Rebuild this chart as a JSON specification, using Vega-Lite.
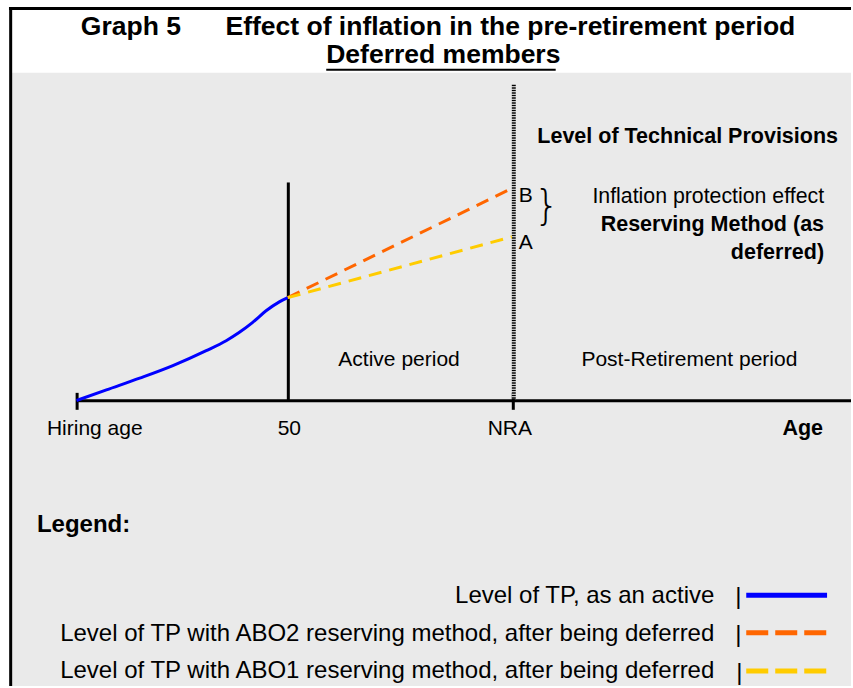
{
  "$schema": "https://vega.github.io/schema/vega-lite/v6.json",
  "width": 853,
  "height": 688,
  "autosize": {"type": "fit", "contains": "padding"},
  "padding": 0,
  "background": "#ffffff",
  "config": {"view": {"stroke": null}, "font": "Liberation Sans"},
  "datasets": {
    "bg": [{"x": 1.2, "x2": 85.3, "y": 0, "y2": 61.5}],
    "hblack3": [{"x": 0.9, "x2": 85.3, "y": 67.95}, {"x": 7.7, "x2": 85.3, "y": 28.6}],
    "vblack3": [{"x": 1.07, "y": 0, "y2": 68.1}, {"x": 7.73, "y": 27.7, "y2": 29.4}, {"x": 51.45, "y": 27.7, "y2": 29.4}, {"x": 28.9, "y": 28.6, "y2": 50.5}],
    "underline": [{"x": 32.7, "x2": 55.7, "y": 61.8}],
    "nra": [{"x": 51.5, "y": 28.8, "y2": 60.3}],
    "active": [
      {"x": 7.67, "y": 28.63}, {"x": 10.67, "y": 29.7}, {"x": 14.0, "y": 30.87}, {"x": 17.33, "y": 32.13},
      {"x": 20.67, "y": 33.63}, {"x": 22.67, "y": 34.63}, {"x": 24.0, "y": 35.47}, {"x": 25.33, "y": 36.47},
      {"x": 26.67, "y": 37.63}, {"x": 28.0, "y": 38.53}, {"x": 28.85, "y": 38.95}
    ],
    "abo2": [{"x": 28.85, "y": 38.95}, {"x": 51.3, "y": 49.9}],
    "abo1": [{"x": 28.85, "y": 38.95}, {"x": 51.3, "y": 45.05}],
    "key_active": [{"x": 74.8, "y": 9.1}, {"x": 82.9, "y": 9.1}],
    "key_abo2": [{"x": 74.8, "y": 5.35}, {"x": 82.9, "y": 5.35}],
    "key_abo1": [{"x": 74.8, "y": 1.5}, {"x": 82.9, "y": 1.5}],
    "title_text": [
      {"x": 8.1, "y": 65.3, "label": "Graph 5"},
      {"x": 22.6, "y": 65.3, "label": "Effect of inflation in the pre-retirement period"},
      {"x": 32.7, "y": 62.45, "label": "Deferred members"}
    ],
    "bold_right": [
      {"x": 84.0, "y": 54.5, "label": "Level of Technical Provisions"},
      {"x": 82.6, "y": 45.6, "label": "Reserving Method (as"},
      {"x": 82.6, "y": 42.8, "label": "deferred)"},
      {"x": 82.5, "y": 25.2, "label": "Age"}
    ],
    "plain_right": [{"x": 82.6, "y": 48.4, "label": "Inflation protection effect"}],
    "plain_center": [
      {"x": 40.0, "y": 32.1, "label": "Active period"},
      {"x": 69.1, "y": 32.1, "label": "Post-Retirement period"},
      {"x": 9.5, "y": 25.2, "label": "Hiring age"},
      {"x": 29.0, "y": 25.2, "label": "50"},
      {"x": 51.1, "y": 25.2, "label": "NRA"}
    ],
    "plain_left": [
      {"x": 52.0, "y": 48.5, "label": "B"},
      {"x": 52.0, "y": 43.8, "label": "A"}
    ],
    "brace": [{"x": 54.8, "y": 48.0, "label": "}"}],
    "legend_title": [{"x": 3.7, "y": 15.4, "label": "Legend:"}],
    "legend_text": [
      {"x": 71.6, "y": 8.3, "label": "Level of TP, as an active"},
      {"x": 71.6, "y": 4.5, "label": "Level of TP with ABO2 reserving method, after being deferred"},
      {"x": 71.6, "y": 0.8, "label": "Level of TP with ABO1 reserving method, after being deferred"}
    ],
    "legend_bars": [
      {"x": 74.0, "y": 8.2, "label": "|"},
      {"x": 74.0, "y": 4.4, "label": "|"},
      {"x": 74.1, "y": 0.6, "label": "|"}
    ]
  },
  "encoding": {
    "x": {"field": "x", "type": "quantitative", "scale": {"domain": [0, 85.3], "nice": false, "zero": false}, "axis": null},
    "y": {"field": "y", "type": "quantitative", "scale": {"domain": [0, 68.8], "nice": false, "zero": false}, "axis": null}
  },
  "layer": [
    {"data": {"name": "bg"}, "mark": {"type": "rect", "color": "#eaeaea"},
     "encoding": {"x2": {"field": "x2"}, "y2": {"field": "y2"}}},
    {"data": {"name": "hblack3"}, "mark": {"type": "rule", "color": "#000000", "strokeWidth": 3},
     "encoding": {"x2": {"field": "x2"}}},
    {"data": {"name": "vblack3"}, "mark": {"type": "rule", "color": "#000000", "strokeWidth": 3},
     "encoding": {"y2": {"field": "y2"}}},
    {"data": {"name": "underline"}, "mark": {"type": "rule", "color": "#000000", "strokeWidth": 2},
     "encoding": {"x2": {"field": "x2"}}},
    {"data": {"name": "nra"}, "mark": {"type": "rule", "color": "#ffffff", "strokeWidth": 4},
     "encoding": {"y2": {"field": "y2"}}},
    {"data": {"name": "nra"}, "mark": {"type": "rule", "color": "#000000", "strokeWidth": 4, "strokeDash": [1.5, 1]},
     "encoding": {"y2": {"field": "y2"}}},
    {"data": {"name": "active"}, "mark": {"type": "line", "color": "#0000ff", "strokeWidth": 3, "interpolate": "monotone"}},
    {"data": {"name": "abo2"}, "mark": {"type": "line", "color": "#ff6600", "strokeWidth": 3, "strokeDash": [13, 8]}},
    {"data": {"name": "abo1"}, "mark": {"type": "line", "color": "#ffcc00", "strokeWidth": 3, "strokeDash": [13, 8]}},
    {"data": {"name": "key_active"}, "mark": {"type": "line", "color": "#0000ff", "strokeWidth": 5}},
    {"data": {"name": "key_abo2"}, "mark": {"type": "line", "color": "#ff6600", "strokeWidth": 5, "strokeDash": [22, 7]}},
    {"data": {"name": "key_abo1"}, "mark": {"type": "line", "color": "#ffcc00", "strokeWidth": 5, "strokeDash": [22, 7]}},
    {"data": {"name": "title_text"}, "mark": {"type": "text", "align": "left", "baseline": "alphabetic", "fontSize": 26.5, "fontWeight": "bold", "color": "#000000"},
     "encoding": {"text": {"field": "label"}}},
    {"data": {"name": "bold_right"}, "mark": {"type": "text", "align": "right", "baseline": "alphabetic", "fontSize": 21.5, "fontWeight": "bold", "color": "#000000"},
     "encoding": {"text": {"field": "label"}}},
    {"data": {"name": "plain_right"}, "mark": {"type": "text", "align": "right", "baseline": "alphabetic", "fontSize": 21.3, "color": "#000000"},
     "encoding": {"text": {"field": "label"}}},
    {"data": {"name": "plain_center"}, "mark": {"type": "text", "align": "center", "baseline": "alphabetic", "fontSize": 21, "color": "#000000"},
     "encoding": {"text": {"field": "label"}}},
    {"data": {"name": "plain_left"}, "mark": {"type": "text", "align": "left", "baseline": "alphabetic", "fontSize": 21, "color": "#000000"},
     "encoding": {"text": {"field": "label"}}},
    {"data": {"name": "brace"}, "mark": {"type": "text", "align": "center", "baseline": "middle", "fontSize": 40, "font": "DejaVu Sans", "fontWeight": 200, "color": "#000000"},
     "encoding": {"text": {"field": "label"}}},
    {"data": {"name": "legend_title"}, "mark": {"type": "text", "align": "left", "baseline": "alphabetic", "fontSize": 24, "fontWeight": "bold", "color": "#000000"},
     "encoding": {"text": {"field": "label"}}},
    {"data": {"name": "legend_text"}, "mark": {"type": "text", "align": "right", "baseline": "alphabetic", "fontSize": 24, "color": "#000000"},
     "encoding": {"text": {"field": "label"}}},
    {"data": {"name": "legend_bars"}, "mark": {"type": "text", "align": "center", "baseline": "alphabetic", "fontSize": 24, "color": "#000000"},
     "encoding": {"text": {"field": "label"}}}
  ]
}
